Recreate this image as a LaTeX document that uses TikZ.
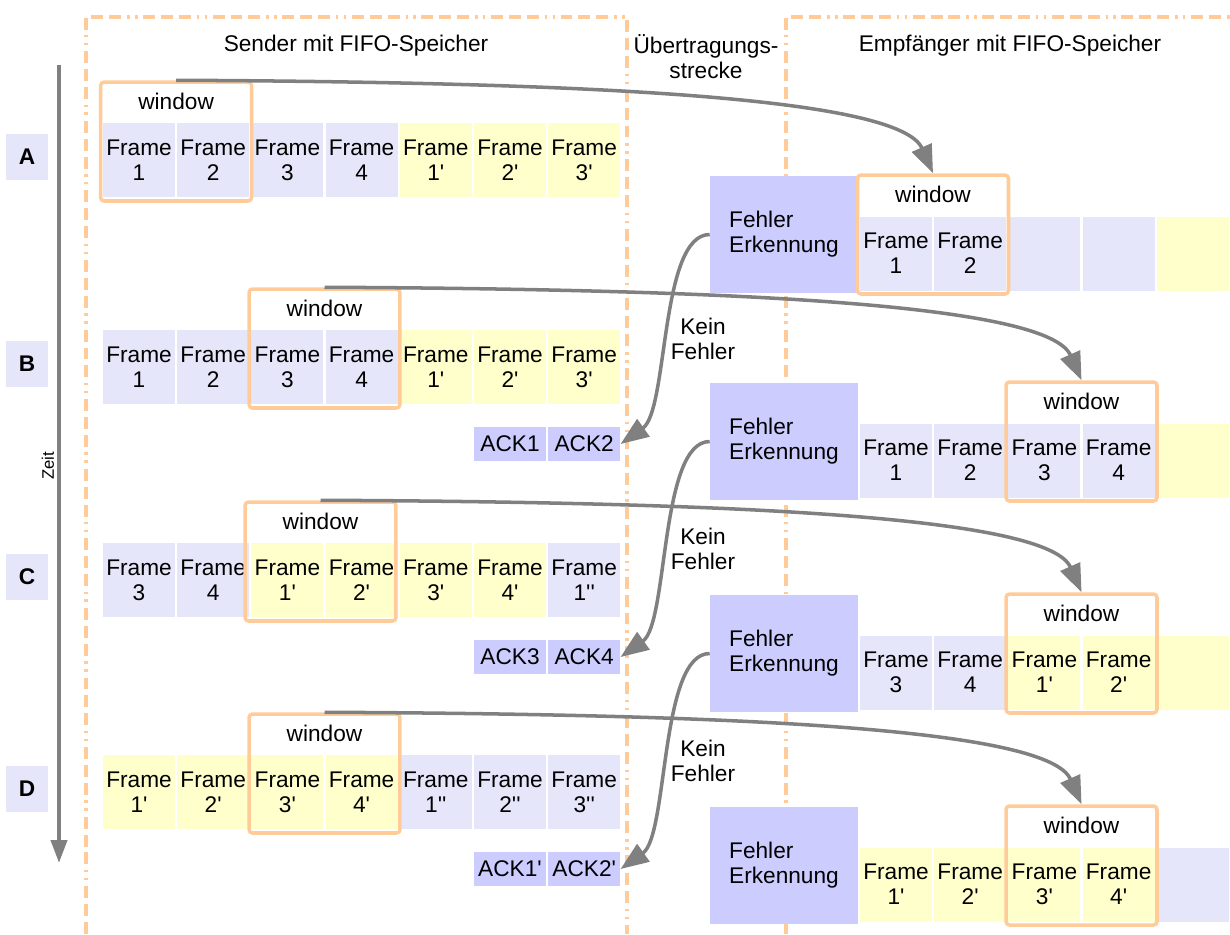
\documentclass[tikz,border=0pt]{standalone}
\usepackage{fontspec}
\setmainfont{Liberation Sans}
\usetikzlibrary{arrows.meta}

\definecolor{framelav}{HTML}{E6E6FA}
\definecolor{frameylw}{HTML}{FFFFCC}
\definecolor{ackblue}{HTML}{CCCCFF}
\definecolor{winorange}{HTML}{FFCC99}
\definecolor{flowgray}{HTML}{808080}

\newcommand\dgfont{\fontsize{12.9}{14.2}\selectfont}
\newcommand\primetick{\textquotesingle}

\tikzset{
  txt/.style={font=\dgfont, inner sep=0pt},
  cell/.style={minimum width=1.44cm, minimum height=1.48cm, inner sep=0pt,
               align=center, font=\dgfont},
  ack/.style={minimum width=1.44cm, minimum height=0.68cm, inner sep=0pt,
              fill=ackblue, font=\dgfont},
  fe/.style={minimum width=2.96cm, minimum height=2.34cm, inner sep=0pt,
             fill=ackblue, align=left, font=\dgfont},
  win/.style={draw=winorange, line width=2pt, rounded corners=2pt,
              minimum width=3.02cm, minimum height=2.38cm, inner sep=0pt},
  wlab/.style={font=\dgfont, inner sep=0pt},
  rowlab/.style={fill=framelav, minimum width=0.84cm, minimum height=0.92cm,
                 inner sep=0pt, font=\dgfont\bfseries},
  border/.style={draw=winorange, line width=2.5pt,
                 dash pattern=on 6.8pt off 3.4pt on 6.8pt off 3.4pt on 6.8pt off 3.4pt
                              on 1.4pt off 3.1pt on 1.4pt off 3.1pt},
  flow/.style={draw=flowgray, line width=2pt,
               -{Triangle[length=16pt,width=12pt]}},
  axis/.style={draw=flowgray, line width=2.3pt,
               -{Triangle[length=13pt,width=9pt]}},
}

\begin{document}
\begin{tikzpicture}[x=0.02cm, y=-0.02cm]
\useasboundingbox (0,0) rectangle (1230,934);

% ---- column frames (sender / receiver) ----
\draw[border] (86,934) -- (86,17) -- (627,17) -- (627,934);
\draw[border] (786,934) -- (786,17) -- (1230,17);

% ---- column headings ----
\node[txt] (hsend) at (356,46) {Sender mit FIFO-Speicher};
\node[txt, align=center] (hline) at (706,57) {Übertragungs-\\strecke};
\node[txt] (hrecv) at (1010,46) {Empfänger mit FIFO-Speicher};

% ---- time axis ----
\coordinate (t0) at (59,65);
\coordinate (t1) at (59,863);
\draw[axis] (t0) -- (t1);
\node[rotate=90, font=\fontsize{9.5}{11}\selectfont, inner sep=0pt] (zeit) at (48,466) {Zeit};

% ---- step labels ----
\node[rowlab] (lA) at (27,157) {A};
\node[rowlab] (lB) at (27,364) {B};
\node[rowlab] (lC) at (27,577) {C};
\node[rowlab] (lD) at (27,789) {D};

% ---- sender queues ----
\foreach \i/\c/\t in {0/framelav/1,1/framelav/2,2/framelav/3,3/framelav/4,
    4/frameylw/1\primetick,5/frameylw/2\primetick,6/frameylw/3\primetick}
  \node[cell, fill=\c] (sA\i) at ({139+74.2*\i},160) {Frame\\\t};
\foreach \i/\c/\t in {0/framelav/1,1/framelav/2,2/framelav/3,3/framelav/4,
    4/frameylw/1\primetick,5/frameylw/2\primetick,6/frameylw/3\primetick}
  \node[cell, fill=\c] (sB\i) at ({139+74.2*\i},367) {Frame\\\t};
\foreach \i/\c/\t in {0/framelav/3,1/framelav/4,2/frameylw/1\primetick,
    3/frameylw/2\primetick,4/frameylw/3\primetick,5/frameylw/4\primetick,
    6/framelav/1\primetick\primetick}
  \node[cell, fill=\c] (sC\i) at ({139+74.2*\i},580) {Frame\\\t};
\foreach \i/\c/\t in {0/frameylw/1\primetick,1/frameylw/2\primetick,
    2/frameylw/3\primetick,3/frameylw/4\primetick,4/framelav/1\primetick\primetick,
    5/framelav/2\primetick\primetick,6/framelav/3\primetick\primetick}
  \node[cell, fill=\c] (sD\i) at ({139+74.2*\i},792) {Frame\\\t};

% sender windows
\node[win] (wA) at (176.1,141.5) {};
\node[win] (wB) at (324.5,348.5) {};
\node[win] (wC) at (320.5,561.5) {};
\node[win] (wD) at (324.5,773.5) {};
\foreach \w in {wA,wB,wC,wD}
  \node[wlab] (\w l) at ([yshift=-0.42cm]\w.north) {window};

% acknowledgements
\node[ack] (ackB1) at (510,444) {ACK1};
\node[ack] (ackB2) at (584.2,444) {ACK2};
\node[ack] (ackC1) at (510,657) {ACK3};
\node[ack] (ackC2) at (584.2,657) {ACK4};
\node[ack] (ackD1) at (510,869) {ACK1\primetick};
\node[ack] (ackD2) at (584.2,869) {ACK2\primetick};

% ---- receiver: error detection ----
\node[fe] (feA) at (784,234.5) {Fehler\\Erkennung};
\node[fe] (feB) at (784,441.5) {Fehler\\Erkennung};
\node[fe] (feC) at (784,653.5) {Fehler\\Erkennung};
\node[fe] (feD) at (784,865.5) {Fehler\\Erkennung};

% ---- receiver queues ----
\foreach \i/\c/\t in {0/framelav/Frame\\1,1/framelav/Frame\\2,2/framelav/,
    3/framelav/,4/frameylw/}
  \node[cell, fill=\c] (rA\i) at ({896+74.2*\i},253.5) {\t};
\foreach \i/\c/\t in {0/framelav/Frame\\1,1/framelav/Frame\\2,
    2/framelav/Frame\\3,3/framelav/Frame\\4,4/frameylw/}
  \node[cell, fill=\c] (rB\i) at ({896+74.2*\i},460.5) {\t};
\foreach \i/\c/\t in {0/framelav/Frame\\3,1/framelav/Frame\\4,
    2/frameylw/Frame\\1\primetick,3/frameylw/Frame\\2\primetick,4/frameylw/}
  \node[cell, fill=\c] (rC\i) at ({896+74.2*\i},672.5) {\t};
\foreach \i/\c/\t in {0/frameylw/Frame\\1\primetick,1/frameylw/Frame\\2\primetick,
    2/frameylw/Frame\\3\primetick,3/frameylw/Frame\\4\primetick,4/framelav/}
  \node[cell, fill=\c] (rD\i) at ({896+74.2*\i},884.5) {\t};

% receiver windows
\node[win] (vA) at (933,234.5) {};
\node[win] (vB) at (1081.5,441.5) {};
\node[win] (vC) at (1081.5,653.5) {};
\node[win] (vD) at (1081.5,865.5) {};
\foreach \w in {vA,vB,vC,vD}
  \node[wlab] (\w l) at ([yshift=-0.42cm]\w.north) {window};

% ---- transmissions: sender window -> receiver window ----
\foreach \s/\r in {wA/vA,wB/vB,wC/vC,wD/vD}
  \draw[flow] (\s.north) .. controls +(424,2) and +(-33,-75) .. (\r.north);

% ---- acknowledgements back to the sender ----
\draw[flow] (feA.west) .. controls +(-50,0) and +(48,-34) .. (ackB2.east);
\draw[flow] (feB.west) .. controls +(-50,0) and +(48,-34) .. (ackC2.east);
\draw[flow] (feC.west) .. controls +(-50,0) and +(48,-34) .. (ackD2.east);

\node[txt, align=center] (kf1) at (703,339) {Kein\\Fehler};
\node[txt, align=center] (kf2) at (703,549) {Kein\\Fehler};
\node[txt, align=center] (kf3) at (703,761) {Kein\\Fehler};

\end{tikzpicture}
\end{document}
